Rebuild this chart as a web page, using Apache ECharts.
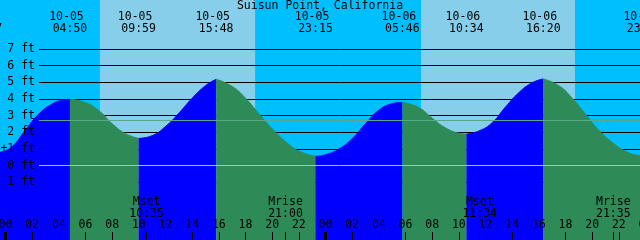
<!DOCTYPE html>
<html><head><meta charset="utf-8">
<script src="https://cdn.jsdelivr.net/npm/echarts@6/dist/echarts.min.js"></script>
<style>html,body{margin:0;padding:0;background:#00BFFF}#c{width:640px;height:240px}</style>
</head><body><div id="c"></div>
<script>
// ---- data (hours from 10-05 00:00, feet) ----
const chartTitle = 'Suisun Point, California';
const extremeHours = [-1.55, 4.833, 9.983, 15.8, 23.25, 29.767, 34.567, 40.333, 47.9];
const extremeFeet  = [0.60, 3.98, 1.64, 5.18, 0.56, 3.80, 1.90, 5.20, 0.55];
const extremeDates = ['10-04','10-05','10-05','10-05','10-05','10-06','10-06','10-06','10-06'];
const extremeTimes = ['22:27','04:50','09:59','15:48','23:15','05:46','10:34','16:20','23:54'];
const curveHours = [-0.4,0.5,1.5,2.5,3.5,4.2, 6,7,8,9, 11,12,13,14,15, 17,18,19,20,21,22, 24,25,26,27,28,29, 31,32,33,34, 35.5,36.5,37.5,38.5,39.5, 41.5,42.5,43.5,44.5,45.5,46.5,47.6];
const curveFeet  = [0.80,1.15,2.15,3.10,3.70,3.92, 3.78,3.30,2.52,1.92, 1.80,2.35,3.15,4.05,4.80, 4.75,4.05,3.12,2.22,1.45,0.88, 0.66,1.00,1.62,2.52,3.33,3.72, 3.48,2.85,2.27,1.95, 2.08,2.58,3.52,4.38,4.97, 4.80,4.05,3.08,2.12,1.40,0.86,0.58];
const sunRise = [7.08, 31.16];
const sunSet  = [18.72, 42.71];
const moonHours = [10.583, 21.0, 35.567, 45.583];
const moonNames = ['Mset','Mrise','Mset','Mrise'];
const moonTimes = ['10:35','21:00','11:34','21:35'];
const hourTicks = [0,2,4,6,8,10,12,14,16,18,20,22,24,26,28,30,32,34,36,38,40,42,44,46,48];
const dayTicks = [0,24,48];
const ftLevels = [-1,0,1,2,3,4,5,6,7];
const refLines = [0, 2.72];

// ---- layout ----
const X0 = -3.4125, X1 = 50.5875;
const Y0 = -4.454, Y1 = 9.934;
const FONT = 'DejaVu Sans Mono', FS = 11.5;
const RISE = '#0000FF', FALL = '#2E8B57';

const pts = [];
extremeHours.forEach((h,i)=>pts.push([h, extremeFeet[i]]));
curveHours.forEach((h,i)=>pts.push([h, curveFeet[i]]));
pts.sort((a,b)=>a[0]-b[0]);
const tideSeries = [];
for (let i=0;i<extremeHours.length-1;i++){
  const a = extremeHours[i], b = extremeHours[i+1];
  const seg = pts.filter(p=>p[0]>=a && p[0]<=b);
  const col = extremeFeet[i+1] > extremeFeet[i] ? RISE : FALL;
  tideSeries.push({
    type:'line', xAxisIndex:0, yAxisIndex:0, data:seg, symbol:'none',
    smooth:0.5, z:3, silent:true, clip:false,
    lineStyle:{color:col, width:1}, areaStyle:{color:col, opacity:1, origin:'start'}
  });
}
function near(arr, v){ let bi=0; arr.forEach((x,i)=>{ if(Math.abs(x-v)<Math.abs(arr[bi]-v)) bi=i; }); return bi; }
const txt = {fontFamily:FONT, fontSize:FS, color:'#000', lineHeight:12};
const G = {outerBoundsMode:'none', containLabel:false};

const chart = echarts.init(document.getElementById('c'), null, {renderer:'canvas'});
chart.setOption({
  animation:false,
  backgroundColor:'#00BFFF',
  title:{text:chartTitle, left:'center', top:0, padding:0,
    textStyle:{fontFamily:FONT, fontSize:FS, fontWeight:'normal', color:'#000', lineHeight:12}},
  grid:[
    {left:-40, right:-40, top:0, bottom:0, ...G},
    {left:-40, right:-40, top:0, bottom:0, ...G},
    {left:39, right:0, top:48.9, bottom:57.6, ...G},
    {left:39, right:0, top:48.9, bottom:57.6, ...G}
  ],
  xAxis:[
    {gridIndex:0, type:'value', min:X0, max:X1, position:'bottom', z:5,
      axisLine:{show:false, onZero:false}, splitLine:{show:false},
      axisTick:{show:true, inside:true, length:8, customValues:hourTicks.concat(moonHours), lineStyle:{color:'#000', width:1}},
      axisLabel:{show:true, inside:true, margin:9, customValues:hourTicks, hideOverlap:false, ...txt,
        formatter:v=>String(((Math.round(v)%24)+24)%24).padStart(2,'0')}},
    {gridIndex:0, type:'value', min:X0, max:X1, position:'top', z:5,
      axisLine:{show:false, onZero:false}, splitLine:{show:false}, axisTick:{show:false},
      axisLabel:{show:true, inside:true, margin:11, customValues:extremeHours, hideOverlap:false, ...txt,
        formatter:v=>{const i=near(extremeHours,v); return extremeDates[i]+' \n'+extremeTimes[i];}}},
    {gridIndex:1, type:'value', min:X0, max:X1, position:'bottom', z:5,
      axisLine:{show:false, onZero:false}, splitLine:{show:false},
      axisTick:{show:true, inside:true, length:8, customValues:dayTicks, lineStyle:{color:'#000', width:3}},
      axisLabel:{show:true, inside:true, margin:20, customValues:moonHours, hideOverlap:false, ...txt,
        formatter:v=>{const i=near(moonHours,v); return moonNames[i]+'\n'+moonTimes[i];}}},
    {gridIndex:2, type:'value', min:0, max:1, show:false},
    {gridIndex:3, type:'value', min:0, max:1, show:false}
  ],
  yAxis:[
    {gridIndex:0, type:'value', min:Y0, max:Y1, show:false},
    {gridIndex:1, type:'value', min:Y0, max:Y1, show:false},
    {gridIndex:2, type:'value', min:-1, max:7, interval:1, z:2,
      axisLine:{show:false}, axisTick:{show:false}, axisLabel:{show:false},
      splitLine:{show:true, lineStyle:{color:'#000', width:1}}},
    {gridIndex:3, type:'value', min:-1, max:7, interval:1, z:5, position:'left',
      axisLine:{show:false}, axisTick:{show:false}, splitLine:{show:false},
      axisLabel:{show:true, margin:4, ...txt, formatter:v=>(v===1?'+1':String(v))+' ft'}}
  ],
  series:[
    {type:'line', xAxisIndex:0, yAxisIndex:0, data:[], z:1, silent:true,
      markArea:{silent:true, itemStyle:{color:'#87CEEB'},
        data:sunRise.map((r,i)=>[{xAxis:r},{xAxis:sunSet[i]}])}},
    ...tideSeries,
    {type:'line', xAxisIndex:3, yAxisIndex:2, data:[], z:4, silent:true,
      markLine:{silent:true, symbol:['none','none'], label:{show:false},
        data:refLines.map((v,i)=>({yAxis:v, lineStyle:{type:'solid', width:1, color: i===0?'#88CCE8':'#5AA88A'}}))}}
  ]
});
</script></body></html>
